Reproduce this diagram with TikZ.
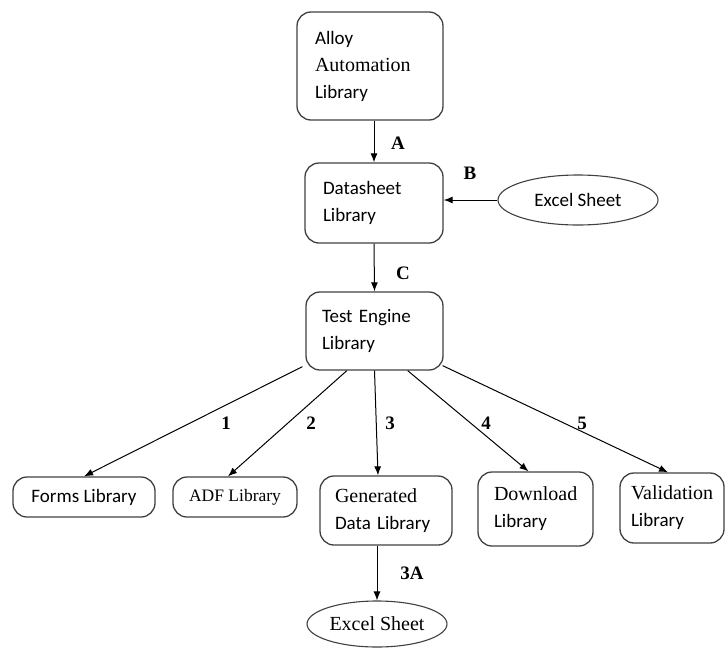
\documentclass[tikz,border=0pt]{standalone}
\usepackage{fontspec}
\setmainfont{Liberation Serif}
\newfontfamily\calfont{Carlito}
\newcommand{\srf}{\rmfamily\fontsize{20}{27}\selectfont}
\usetikzlibrary{arrows.meta}
\usetikzlibrary{calc}
\usetikzlibrary{shapes.geometric}

\begin{document}
\begin{tikzpicture}[x=1pt,y=-1pt,
    libbox/.style={draw=black!75, line width=1.3pt, rounded corners=14pt, inner ysep=0pt, align=left, font=\calfont\fontsize{19}{27}\selectfont},
    sheet/.style={draw=black!75, line width=1.1pt, ellipse, inner sep=0pt},
    arr/.style={line width=1pt, -{Latex[length=9pt,width=7pt]}},
    lab/.style={font=\bfseries\fontsize{19}{20}\selectfont}]

        \useasboundingbox (0,0) rectangle (725,648);

        % Libraries
        \node[libbox, text width=110pt, inner xsep=18pt, minimum height=108pt] (alloy) at (370,66) {Alloy\\{\srf Automation}\\Library};
        \node[libbox, text width=102pt, inner xsep=18pt, minimum height=80pt] (data) at (374,203) {Datasheet\\Library};
        \node[libbox, text width=105pt, inner xsep=16pt, minimum height=78pt] (engine) at (374.5,331) {Test Engine\\Library};
        \node[libbox, minimum width=142pt, minimum height=40pt] (forms) at (84,497) {Forms Library};
        \node[libbox, minimum width=124pt, minimum height=40pt, font=\rmfamily\fontsize{17.5}{20}\selectfont] (adf) at (235,497) {ADF Library};
        \node[libbox, text width=102pt, inner xsep=15pt, minimum height=69pt] (gen) at (386,510.5) {{\srf Generated}\\Data Library};
        \node[libbox, text width=83pt, inner xsep=16pt, minimum height=74pt] (down) at (535.5,509) {{\srf Download}\\Library};
        \node[libbox, text width=82pt, inner xsep=11pt, minimum height=70pt] (valid) at (672,508) {{\srf Validation}\\Library};

        % Excel sheets
        \node[sheet, minimum width=160pt, minimum height=50pt, font=\calfont\fontsize{19}{20}\selectfont] (xlone) at (578,200) {Excel Sheet};
        \node[sheet, minimum width=140pt, minimum height=46pt, font=\fontsize{20}{21}\selectfont] (xltwo) at (377,624) {Excel Sheet};

        % Arrows
        \draw[arr] (data.north |- alloy.south) -- (data.north);
        \draw[arr] (xlone.west) -- (data.east |- xlone.west);
        \draw[arr] (data.south) -- (engine.north);
        \draw[arr] ($(engine.south west)+(-3,-4)$) -- (forms.north);
        \draw[arr] ($(engine.south west)!0.3!(engine.south east)$) -- ($(adf.north)+(-7,0)$);
        \draw[arr] (engine.south) -- ($(gen.north)+(-8,0)$);
        \draw[arr] ($(engine.south west)!0.74!(engine.south east)$) -- ($(down.north)+(-7,0)$);
        \draw[arr] ($(engine.south east)+(-1,-5)$) -- ($(valid.north)+(-4,0)$);
        \draw[arr] (gen.south -| xltwo.north) -- (xltwo.north);

        % Labels
        \node[lab] (la) at (398,143) {A};
        \node[lab] (lb) at (470,173) {B};
        \node[lab] (lc) at (403,273) {C};
        \node[lab] (lone) at (226,423) {1};
        \node[lab] (ltwo) at (311,423) {2};
        \node[lab] (lthree) at (390,423) {3};
        \node[lab] (lfour) at (486,423) {4};
        \node[lab] (lfive) at (582,423) {5};
        \node[lab] (lthreea) at (412,573) {3A};
    \end{tikzpicture}
\end{document}
